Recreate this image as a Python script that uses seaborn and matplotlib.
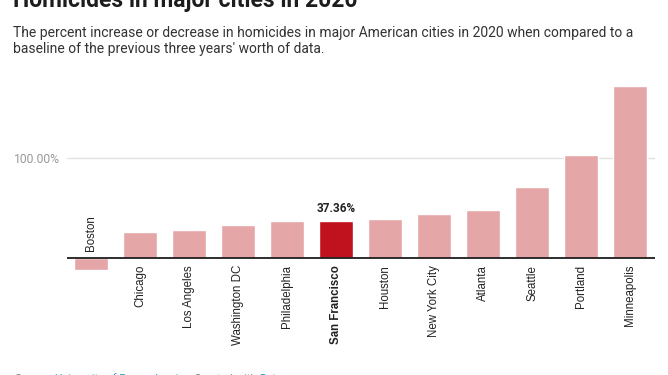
import matplotlib
matplotlib.use("Agg")
import matplotlib.pyplot as plt
import pandas as pd
import seaborn as sns

# datos (cambio % de homicidios 2020 vs promedio 3 anios)
cities = ["Boston", "Chicago", "Los Angeles", "Washington DC", "Philadelphia",
          "San Francisco", "Houston", "New York City", "Atlanta", "Seattle",
          "Portland", "Minneapolis"]
pct_change = [-12.4, 26.2, 28.3, 33.3, 37.1, 37.36, 39.3, 44.3, 48.3, 71.3, 103.3, 171.7]
highlight = "San Francisco"

title = "Homicides in major cities in 2020"
subtitle = ("The percent increase or decrease in homicides in major American cities in 2020 when compared to a\n"
            "baseline of the previous three years' worth of data.")

df = pd.DataFrame({"city": cities, "pct": pct_change})

sns.set_style("white")
plt.rcParams["font.family"] = ["Roboto", "DejaVu Sans"]

W, H = 668, 375
fig = plt.figure(figsize=(W / 100, H / 100), dpi=100)

# ejes en pixeles: izquierda 67, derecha 655, y de 78 a 276 (desde arriba)
ax = fig.add_axes([67 / W, (H - 276) / H, (655 - 67) / W, (276 - 78) / H])

pink = "#e5a6a7"
red = "#c0111f"
palette = [red if c == highlight else pink for c in cities]
sns.barplot(data=df, x="city", y="pct", hue="city", palette=palette,
            legend=False, width=0.69, saturation=1, ax=ax)

ax.set_xlim(-0.49, len(cities) - 0.49)
ax.set_ylim(-18, 180)
ax.set_xlabel("")
ax.set_ylabel("")
ax.set_xticks([])
ax.set_yticks([100])
ax.set_yticklabels(["100.00%"], color="#999999", fontsize=8.7)
ax.tick_params(axis="y", length=0, pad=5)
ax.grid(axis="y", color="#e2e2e2", linewidth=1)
for s in ax.spines.values():
    s.set_visible(False)
ax.axhline(0, color="#1d1d1d", linewidth=1.3, zorder=3)

# etiquetas de ciudades, verticales
for i, (c, v) in enumerate(zip(cities, pct_change)):
    bold = "bold" if c == highlight else "normal"
    if v >= 0:
        ax.annotate(c, (i, 0), xytext=(0, -5), textcoords="offset points",
                    rotation=90, ha="center", va="top", fontsize=8.3,
                    fontweight=bold, color="#222222", fontfamily="Liberation Sans")
    else:
        ax.annotate(c, (i, 0), xytext=(0, 5), textcoords="offset points",
                    rotation=90, ha="center", va="bottom", fontsize=8.3,
                    fontweight=bold, color="#222222", fontfamily="Liberation Sans")
    if c == highlight:
        ax.annotate(f"{v:.2f}%", (i, v), xytext=(0, 4), textcoords="offset points",
                    ha="center", va="bottom", fontsize=8.5, fontweight="bold",
                    color="#222222")

fig.text(13 / W, 1 - 7 / H, title, fontsize=16.5, fontweight="bold",
         color="#1d1d1d", va="baseline", ha="left")
fig.text(13 / W, 1 - 26 / H, subtitle, fontsize=10, color="#333333",
         va="top", ha="left", linespacing=1.15)

# pie de pagina (cortado en el borde inferior)
foot_y = 1 - 373.5 / H
t = fig.text(15 / W, foot_y, "Source: ", fontsize=8, color="#888888", va="top")
fig.canvas.draw()
r = fig.canvas.get_renderer()
x = t.get_window_extent(r).x1
for txt, col in [("University of Pennsylvania", "#18a1cd"), (" \u2022 Created with ", "#888888"),
                 ("Datawrapper", "#18a1cd")]:
    tt = fig.text(x / W, foot_y, txt, fontsize=8, color=col, va="top")
    x = tt.get_window_extent(r).x1

fig.savefig("out.png", dpi=100)
